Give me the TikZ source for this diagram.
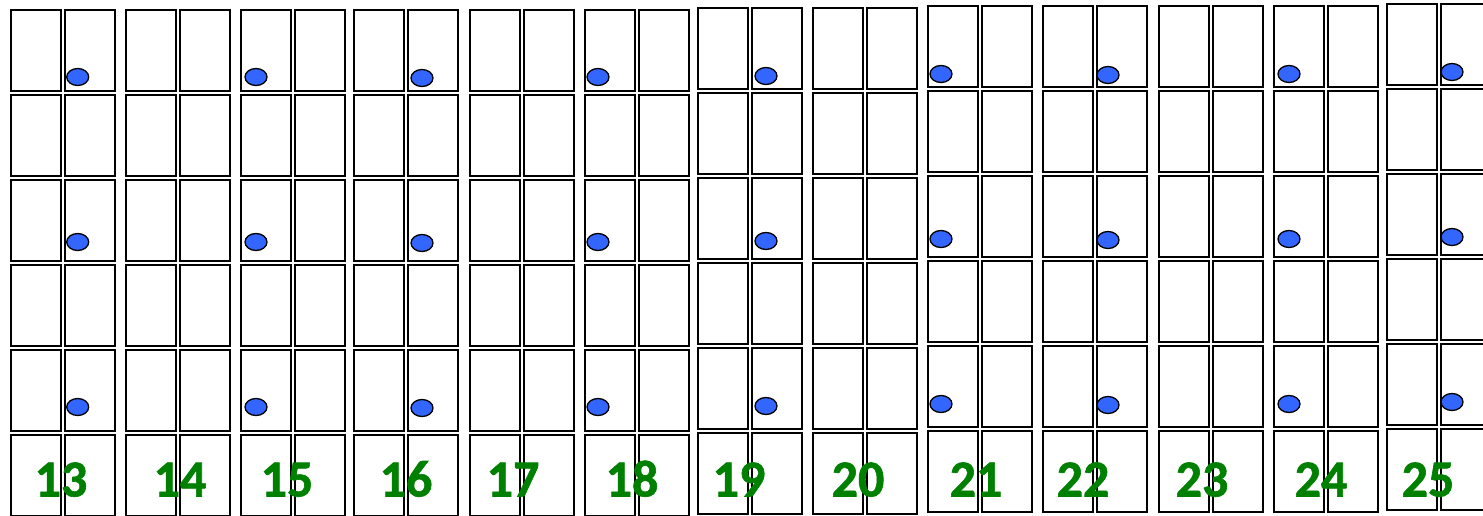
\documentclass[tikz,border=0pt]{standalone}
\usepackage{fontspec}
\newfontfamily\numfont{Carlito}[FakeBold=1.2]
\usetikzlibrary{shapes.geometric}
\definecolor{numgreen}{RGB}{0,128,0}
\definecolor{dotblue}{RGB}{51,102,255}
\begin{document}
\begin{tikzpicture}[x=1pt,y=-1pt,
  cell/.style={draw=black,line width=2pt,fill=white,minimum width=50pt,minimum height=81pt,inner sep=0pt,outer sep=0pt},
  dot/.style={ellipse,draw=black,line width=1.3pt,fill=dotblue,minimum width=22pt,minimum height=17pt,inner sep=0pt},
  num/.style={text=numgreen,font=\numfont\bfseries\fontsize{52}{60}\selectfont,anchor=base,inner sep=0pt}]
\useasboundingbox (0,0) rectangle (1483,515);
% cells
\foreach \n/\L/\t in {13/11/10,14/126/10,15/241/10,16/354/10,17/470/10,18/585/10,19/698/8,20/813/8,21/928/6,22/1043/6,23/1159/6,24/1274/6,25/1387/4}{
  \foreach \k in {1,...,6}{
    \node[cell] (c\n-\k-L) at ({\L+25},{\t+85*(\k-1)+40.5}) {};
    \node[cell] (c\n-\k-R) at ({\L+79},{\t+85*(\k-1)+40.5}) {};
  }
}
% dots
\foreach \n/\x/\t in {13/77.7/10,15/256/10,16/422/11,18/598/10,19/766/9,21/941/7,22/1108/8,24/1289/7,25/1452/5}{
  \node[dot] (d\n-1) at (\x,{\t+67}) {};
  \node[dot] (d\n-3) at (\x,{\t+232}) {};
  \node[dot] (d\n-5) at (\x,{\t+397}) {};
}
% numbers
\foreach \n/\x in {13/61,14/180,15/287,16/406,17/513,18/632,19/739,20/858,21/976,22/1083,23/1202,24/1321,25/1428}{
  \node[num] (n\n) at (\x,496.5) {\n};
}
\end{tikzpicture}
\end{document}
